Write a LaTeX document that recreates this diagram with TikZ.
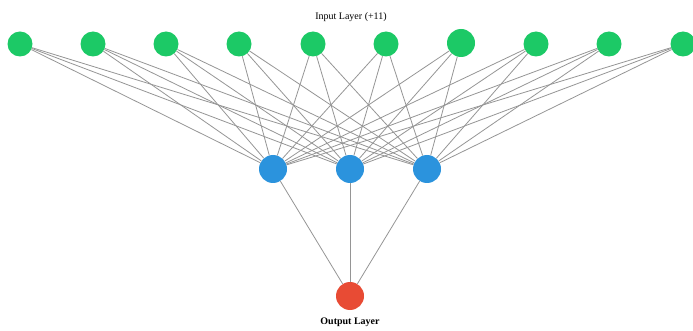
\documentclass[tikz,border=0pt]{standalone}
\usepackage{fontspec}
\setmainfont{Liberation Serif}
\definecolor{ingreen}{HTML}{1CC966}
\definecolor{hidblue}{HTML}{2B93DD}
\definecolor{outred}{HTML}{E84B34}
\definecolor{edgegray}{HTML}{959595}
\tikzset{
	neuron/.style={circle,inner sep=0pt,minimum size=25pt},
	synapse/.style={draw=edgegray,line width=0.8pt},
	layername/.style={font=\fontsize{10}{11}\selectfont}
}
\begin{document}
\begin{tikzpicture}[x=1pt,y=-1pt]
	\useasboundingbox (0,0) rectangle (693,331);
	\node[layername] (inlabel) at (351,17) {Input Layer (+11)};
	\node[layername,font=\fontsize{10}{11}\selectfont\bfseries] (outlabel) at (350,322) {Output Layer};
	\node[neuron,fill=ingreen] (i1) at (20,44) {};
	\node[neuron,fill=ingreen] (i2) at (93,44) {};
	\node[neuron,fill=ingreen] (i3) at (166,44) {};
	\node[neuron,fill=ingreen] (i4) at (239,44) {};
	\node[neuron,fill=ingreen] (i5) at (313,44) {};
	\node[neuron,fill=ingreen] (i6) at (386,44) {};
	\node[neuron,fill=ingreen,minimum size=28pt] (i7) at (461,43) {};
	\node[neuron,fill=ingreen] (i8) at (536,44) {};
	\node[neuron,fill=ingreen] (i9) at (609,44) {};
	\node[neuron,fill=ingreen] (i10) at (683,44) {};
	\node[neuron,fill=hidblue,minimum size=28pt] (h1) at (273,169) {};
	\node[neuron,fill=hidblue,minimum size=28pt] (h2) at (350,169) {};
	\node[neuron,fill=hidblue,minimum size=28pt] (h3) at (427,169) {};
	\node[neuron,fill=outred,minimum size=28pt] (o1) at (350,296) {};
	\foreach \i in {1,...,10}
		\foreach \h in {1,2,3}
			\draw[synapse] (i\i) -- (h\h);
	\foreach \h in {1,2,3}
		\draw[synapse] (h\h) -- (o1);
\end{tikzpicture}
\end{document}
